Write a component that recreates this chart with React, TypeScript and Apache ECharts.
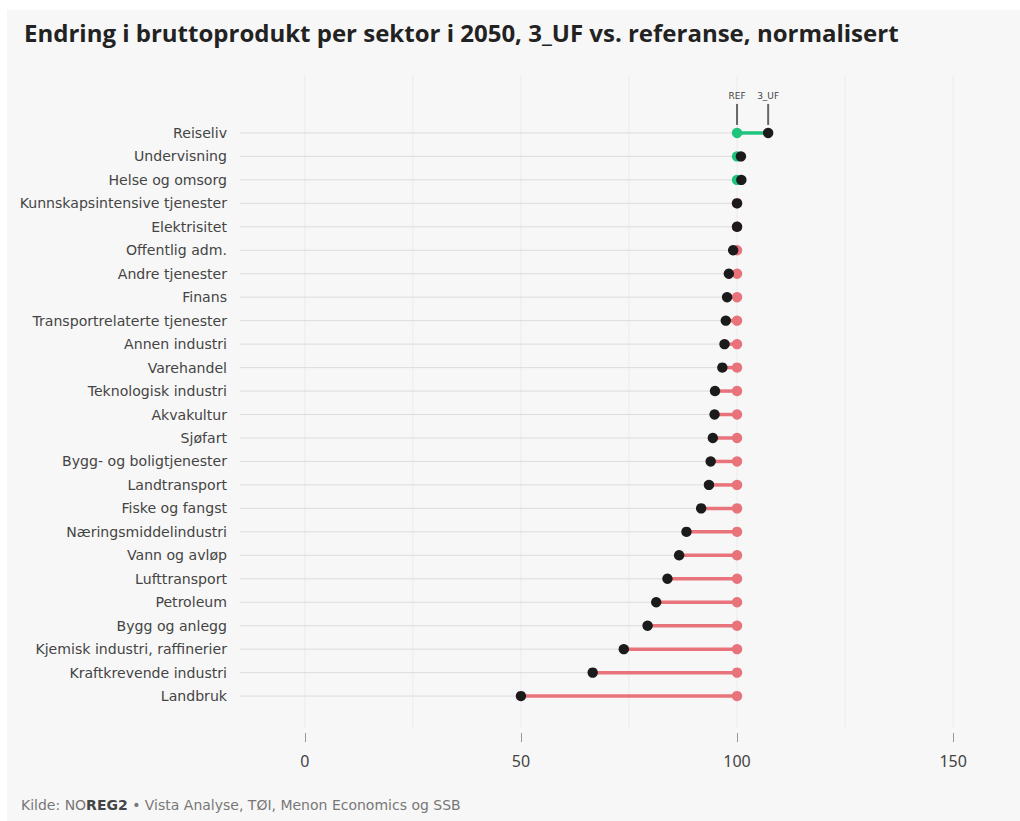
import React, { useEffect, useRef } from "react";
import * as echarts from "echarts";

const categories = [
  "Reiseliv",
  "Undervisning",
  "Helse og omsorg",
  "Kunnskapsintensive tjenester",
  "Elektrisitet",
  "Offentlig adm.",
  "Andre tjenester",
  "Finans",
  "Transportrelaterte tjenester",
  "Annen industri",
  "Varehandel",
  "Teknologisk industri",
  "Akvakultur",
  "Sjøfart",
  "Bygg- og boligtjenester",
  "Landtransport",
  "Fiske og fangst",
  "Næringsmiddelindustri",
  "Vann og avløp",
  "Lufttransport",
  "Petroleum",
  "Bygg og anlegg",
  "Kjemisk industri, raffinerier",
  "Kraftkrevende industri",
  "Landbruk",
];

const refValues = [
  100, 100, 100, 100, 100, 100, 100, 100, 100, 100, 100, 100, 100, 100, 100,
  100, 100, 100, 100, 100, 100, 100, 100, 100, 100,
];

const ufValues = [
  107.2, 100.9, 101.0, 100.0, 100.0, 99.1, 98.1, 97.7, 97.4, 97.1, 96.6, 94.9,
  94.8, 94.4, 93.9, 93.5, 91.7, 88.3, 86.6, 83.9, 81.3, 79.3, 73.8, 66.6, 50.0,
];

const xTicks = [0, 50, 100, 150];
const gridValues = [0, 25, 50, 75, 100, 125, 150];
const X_MIN = -15;
const X_MAX = 162;

const GREEN = "#1ec47c";
const RED = "#e8737b";
const BLACK = "#1b1b1b";

export default function App() {
  const ref = useRef<HTMLDivElement>(null);

  useEffect(() => {
    document.body.style.margin = "0";
    if (!ref.current) return;
    const chart = echarts.init(ref.current, null, { renderer: "svg" });

    const rowData = categories.map((c, i) => [i, refValues[i], ufValues[i]]);

    const option: any = {
      animation: false,
      textStyle: { fontFamily: "DejaVu Sans" },
      title: {
        text: "Endring i bruttoprodukt per sektor i 2050, 3_UF vs. referanse, normalisert",
        left: 19,
        top: 15,
        textStyle: {
          fontFamily: "Open Sans",
          fontWeight: "bold",
          fontSize: 24,
          color: "#222222",
        },
      },
      grid: { left: 240, right: 15, top: 75, bottom: 93 },
      xAxis: {
        type: "value",
        min: X_MIN,
        max: X_MAX,
        offset: 5,
        splitLine: { show: false },
        axisLine: { show: false, onZero: false },
        axisTick: {
          show: true,
          customValues: xTicks,
          length: 9,
          lineStyle: { color: "#999999", width: 1 },
        },
        axisLabel: {
          customValues: xTicks,
          color: "#444444",
          fontSize: 16,
          margin: 20,
          fontFamily: "Noto Sans",
        },
      },
      yAxis: {
        type: "value",
        inverse: true,
        min: -2.47,
        max: 25.36,
        splitLine: { show: false },
        axisLine: { show: false, onZero: false },
        axisTick: { show: false },
        axisLabel: {
          customValues: categories.map((c, i) => i),
          formatter: (v: number) => categories[Math.round(v)] ?? "",
          color: "#444444",
          fontSize: 14.1,
          margin: 13,
          fontFamily: "DejaVu Sans",
        },
      },
      series: [
        {
          type: "custom",
          silent: true,
          z: 1,
          data: gridValues.map((v) => [v]),
          renderItem: (params: any, api: any) => {
            const cs = params.coordSys;
            const x = api.coord([api.value(0), 0])[0];
            return {
              type: "line",
              shape: { x1: x, y1: cs.y, x2: x, y2: cs.y + cs.height },
              style: { stroke: "#ebebeb", lineWidth: 1 },
            };
          },
        },
        {
          type: "custom",
          silent: true,
          z: 2,
          data: rowData,
          encode: { x: [1, 2], y: 0 },
          renderItem: (params: any, api: any) => {
            const idx = api.value(0);
            const r = api.value(1);
            const u = api.value(2);
            const lo = Math.min(r, u);
            const pStart = api.coord([X_MIN, idx]);
            const pLo = api.coord([lo, idx]);
            const pR = api.coord([r, idx]);
            const pU = api.coord([u, idx]);
            const col = u > r ? GREEN : RED;
            const children: any[] = [
              {
                type: "line",
                shape: { x1: pStart[0], y1: pStart[1], x2: pLo[0], y2: pLo[1] },
                style: { stroke: "#dcdcdc", lineWidth: 1 },
              },
              {
                type: "line",
                shape: { x1: pR[0], y1: pR[1], x2: pU[0], y2: pU[1] },
                style: { stroke: col, lineWidth: 3.5 },
              },
              {
                type: "circle",
                shape: { cx: pR[0], cy: pR[1], r: 5.2 },
                style: { fill: col },
              },
              {
                type: "circle",
                shape: { cx: pU[0], cy: pU[1], r: 5.2 },
                style: { fill: BLACK },
              },
            ];
            if (idx === 0) {
              const pts: [number[], string][] = [
                [pR, "REF"],
                [pU, "3_UF"],
              ];
              pts.forEach(([p, label]) => {
                children.push({
                  type: "line",
                  shape: { x1: p[0], y1: p[1] - 29, x2: p[0], y2: p[1] - 8 },
                  style: { stroke: "#666666", lineWidth: 2 },
                });
                children.push({
                  type: "text",
                  style: {
                    x: p[0],
                    y: p[1] - 37,
                    text: label,
                    fill: "#444444",
                    fontSize: 9,
                    fontFamily: "DejaVu Sans",
                    align: "center",
                    verticalAlign: "middle",
                  },
                });
              });
            }
            return { type: "group", children };
          },
        },
      ],
      graphic: [
        {
          type: "text",
          left: 21,
          top: 798,
          style: {
            text: "{a|Kilde: NO}{b|REG2}{a| • Vista Analyse, TØI, Menon Economics og SSB}",
            rich: {
              a: { fontSize: 14, fill: "#777777", color: "#777777", fontFamily: "DejaVu Sans" },
              b: {
                fontSize: 14,
                fill: "#444444",
                color: "#444444",
                fontWeight: "bold",
                fontFamily: "DejaVu Sans",
              },
            },
          },
        },
      ],
    };

    chart.setOption(option);
    return () => chart.dispose();
  }, []);

  return (
    <div
      style={{
        position: "relative",
        width: 1020,
        height: 821,
        background: "#ffffff",
        overflow: "hidden",
      }}
    >
      <div
        style={{
          position: "absolute",
          left: 7,
          top: 10,
          right: 0,
          bottom: 0,
          background: "#f7f7f7",
        }}
      />
      <div
        ref={ref}
        style={{ position: "absolute", left: 0, top: 0, width: 1020, height: 821 }}
      />
    </div>
  );
}
